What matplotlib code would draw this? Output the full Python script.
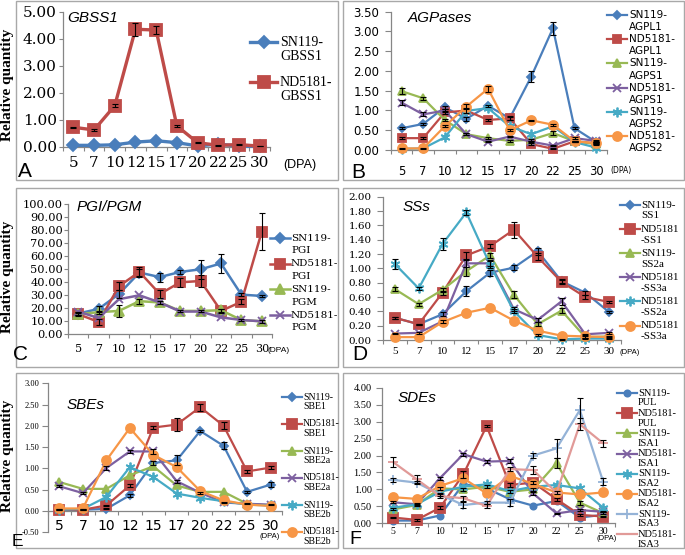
import numpy as np
import matplotlib
matplotlib.use("Agg")
import matplotlib.pyplot as plt
from matplotlib.lines import Line2D
from matplotlib.patches import Rectangle

# ---------------- data ----------------
DPA = ['5', '7', '10', '12', '15', '17', '20', '22', '25', '30']

# A  GBSS1
gbss1_sn119 = [0.05, 0.05, 0.07, 0.17, 0.22, 0.15, 0.03, 0.10, 0.02, 0.01]
gbss1_nd5181 = [0.72, 0.62, 1.52, 4.35, 4.32, 0.77, 0.15, 0.05, 0.08, 0.02]
gbss1_nd5181_err = [0.02, 0.02, 0.05, 0.25, 0.15, 0.03, 0.02, 0.01, 0.01, 0.01]
a_labels = ['SN119-\nGBSS1', 'ND5181-\nGBSS1']

# B  AGPases
agpl1_sn119 = [0.55, 0.66, 1.08, 0.79, 1.12, 0.80, 1.86, 3.08, 0.55, 0.20]
agpl1_sn119_err = [0.02, 0.03, 0.04, 0.05, 0.03, 0.03, 0.15, 0.17, 0.03, 0.02]
agpl1_nd5181 = [0.30, 0.30, 0.95, 1.00, 0.76, 0.80, 0.15, 0.03, 0.22, 0.17]
agpl1_nd5181_err = [0.02, 0.02, 0.04, 0.06, 0.03, 0.05, 0.02, 0.01, 0.02, 0.02]
agps1_sn119 = [1.49, 1.31, 0.76, 0.40, 0.30, 0.23, 0.26, 0.43, 0.22, 0.15]
agps1_sn119_err = [0.08, 0.04, 0.03, 0.02, 0.02, 0.02, 0.02, 0.05, 0.02, 0.02]
agps1_nd5181 = [1.20, 0.90, 1.00, 0.40, 0.21, 0.34, 0.21, 0.11, 0.30, 0.23]
agps1_nd5181_err = [0.07, 0.05, 0.03, 0.02, 0.02, 0.02, 0.02, 0.02, 0.02, 0.02]
agps2_sn119 = [0.03, 0.04, 0.32, 0.99, 1.06, 0.60, 0.40, 0.60, 0.20, 0.06]
agps2_nd5181 = [0.04, 0.04, 0.60, 1.10, 1.55, 0.50, 0.75, 0.64, 0.22, 0.17]
agps2_nd5181_err = [0.01, 0.01, 0.03, 0.06, 0.08, 0.03, 0.02, 0.03, 0.02, 0.02]
b_labels = ['SN119-\nAGPL1', 'ND5181-\nAGPL1', 'SN119-\nAGPS1', 'ND5181-\nAGPS1',
            'SN119-\nAGPS2', 'ND5181-\nAGPS2']

# C  PGI/PGM
pgi_sn119 = [16.0, 19.5, 31.0, 47.5, 44.0, 48.0, 50.0, 54.5, 30.5, 29.5]
pgi_sn119_err = [1.0, 2.0, 3.0, 3.0, 3.5, 1.5, 7.5, 7.0, 1.0, 1.0]
pgi_nd5181 = [15.5, 9.5, 37.0, 48.0, 31.0, 40.0, 41.0, 18.0, 25.0, 79.0]
pgi_nd5181_err = [1.5, 2.5, 3.0, 4.0, 3.0, 3.5, 4.5, 1.5, 2.0, 14.0]
pgm_sn119 = [15.5, 17.0, 18.0, 25.5, 24.5, 18.0, 18.0, 18.5, 11.0, 10.0]
pgm_sn119_err = [1.0, 1.0, 4.5, 2.0, 1.5, 1.0, 1.0, 1.0, 1.0, 1.0]
pgm_nd5181 = [17.5, 12.5, 27.0, 30.0, 24.5, 17.5, 17.5, 13.0, 11.0, 10.0]
c_labels = ['SN119-\nPGI', 'ND5181-\nPGI', 'SN119-\nPGM', 'ND5181-\nPGM']

# D  SSs
ss1_sn119 = [0.31, 0.22, 0.36, 0.68, 0.94, 1.01, 1.24, 0.82, 0.66, 0.39]
ss1_sn119_err = [0.01, 0.01, 0.03, 0.07, 0.04, 0.04, 0.05, 0.03, 0.03, 0.02]
ss1_nd5181 = [0.31, 0.22, 0.66, 1.18, 1.31, 1.54, 1.16, 0.81, 0.60, 0.53]
ss1_nd5181_err = [0.01, 0.01, 0.03, 0.05, 0.03, 0.11, 0.05, 0.03, 0.03, 0.02]
ss2a_sn119 = [0.71, 0.50, 0.70, 0.96, 1.18, 0.63, 0.22, 0.41, 0.04, 0.05]
ss2a_sn119_err = [0.03, 0.02, 0.03, 0.06, 0.03, 0.05, 0.03, 0.03, 0.01, 0.01]
ss3a_nd5181 = [0.09, 0.10, 0.26, 1.07, 1.07, 0.43, 0.28, 0.54, 0.08, 0.10]
ss3a_nd5181_err = [0.01, 0.01, 0.02, 0.05, 0.04, 0.03, 0.03, 0.05, 0.01, 0.01]
ss2a_nd5181 = [1.06, 0.72, 1.34, 1.78, 1.05, 0.40, 0.07, 0.01, 0.02, 0.02]
ss2a_nd5181_err = [0.07, 0.02, 0.08, 0.04, 0.05, 0.03, 0.02, 0.01, 0.01, 0.01]
ss3a_nd5181_b = [0.04, 0.04, 0.25, 0.38, 0.45, 0.27, 0.13, 0.06, 0.05, 0.04]
d_labels = ['SN119-\nSS1', 'ND5181\n-SS1', 'SN119-\nSS2a', 'ND5181\n-SS3a',
            'ND5181\n-SS2a', 'ND5181\n-SS3a']

# E  SBEs
sbe1_sn119 = [0.03, 0.03, 0.05, 0.37, 1.13, 1.19, 1.88, 1.53, 0.45, 0.62]
sbe1_sn119_err = [0.01, 0.01, 0.01, 0.03, 0.05, 0.12, 0.03, 0.08, 0.02, 0.05]
sbe1_nd5181 = [0.03, 0.03, 0.13, 0.60, 1.96, 2.03, 2.44, 2.00, 0.93, 1.02]
sbe1_nd5181_err = [0.01, 0.01, 0.02, 0.04, 0.03, 0.15, 0.08, 0.08, 0.03, 0.03]
sbe2a_sn119 = [0.68, 0.52, 0.52, 0.84, 1.05, 0.60, 0.45, 0.45, 0.17, 0.13]
sbe2a_nd5181 = [0.58, 0.42, 1.01, 1.40, 1.40, 0.70, 0.43, 0.20, 0.17, 0.15]
sbe2a_nd5181_err = [0.02, 0.02, 0.04, 0.04, 0.06, 0.04, 0.02, 0.02, 0.01, 0.01]
sbe2b_sn119 = [0.03, 0.05, 0.33, 1.03, 0.80, 0.41, 0.31, 0.23, 0.15, 0.13]
sbe2b_nd5181 = [0.06, 0.06, 1.19, 1.95, 1.32, 1.03, 0.47, 0.25, 0.15, 0.12]
e_labels = ['SN119-\nSBE1', 'ND5181-\nSBE1', 'SN119-\nSBE2a', 'ND5181-\nSBE2a',
            'SN119-\nSBE2b', 'ND5181-\nSBE2b']

# F  SDEs
pul_sn119 = [0.08, 0.08, 0.23, 1.16, 1.03, 0.71, 0.52, 0.66, 0.17, 0.25]
pul_nd5181 = [0.17, 0.10, 0.46, 1.44, 2.87, 1.13, 1.20, 0.71, 0.25, 0.20]
pul_nd5181_err = [0.02, 0.02, 0.04, 0.10, 0.04, 0.05, 0.05, 0.04, 0.02, 0.02]
isa1_sn119 = [0.41, 0.54, 1.03, 1.00, 1.08, 0.93, 1.00, 1.77, 0.61, 0.30]
isa1_sn119_err = [0.03, 0.03, 0.04, 0.04, 0.04, 0.04, 0.04, 0.15, 0.06, 0.03]
isa1_nd5181 = [0.62, 0.56, 1.33, 2.04, 1.82, 1.84, 0.88, 0.29, 0.39, 0.34]
isa1_nd5181_err = [0.03, 0.03, 0.05, 0.04, 0.04, 0.06, 0.04, 0.02, 0.02, 0.02]
isa2_sn119 = [0.46, 0.56, 0.93, 1.08, 1.15, 0.95, 1.08, 1.13, 1.03, 0.46]
isa2_nd5181 = [0.77, 0.72, 1.10, 1.33, 0.88, 1.40, 1.16, 0.91, 0.85, 0.91]
isa3_sn119 = [1.28, 1.20, 0.85, 0.54, 0.61, 0.61, 2.00, 2.21, 3.34, 1.23]
isa3_sn119_err = [0.05, 0.05, 0.05, 0.08, 0.05, 0.10, 0.08, 0.27, 0.37, 0.10]
isa3_nd5181 = [1.80, 1.30, 0.80, 0.74, 0.51, 1.60, 1.57, 0.90, 2.92, 2.36]
isa3_nd5181_err = [0.15, 0.12, 0.05, 0.07, 0.05, 0.05, 0.12, 0.05, 0.18, 0.10]
f_labels = ['SN119-\nPUL', 'ND5181-\nPUL', 'SN119-\nISA1', 'ND5181-\nISA1',
            'SN119-\nISA2', 'ND5181-\nISA2', 'SN119-\nISA3', 'ND5181-\nISA3']

# ---------------- style ----------------
BLUE, RED, GREEN, PURPLE = '#4A7EBB', '#BE4B48', '#98B954', '#7D60A0'
CYAN, ORANGE, LBLUE, PINK = '#46AAC5', '#F79646', '#95B3D7', '#E19A98'
STAR = (6, 2, 0)
SPINE = '#868686'
SERIF = 'Liberation Serif'
WSERIF = 'DejaVu Serif'
SANS = 'Liberation Sans'
WSANS = 'DejaVu Sans'

W, H = 685, 555
fig = plt.figure(figsize=(W / 100, H / 100), dpi=100)


def fx(x):
    return x / W


def fy(y):
    return 1 - y / H


def box(l, t, r, b):
    fig.add_artist(Rectangle((fx(l), fy(b)), (r - l) / W, (b - t) / H,
                             transform=fig.transFigure, fill=False,
                             ec='#A8A8A8', lw=1.0))


def make_ax(l, t, r, b, ylim, ystep, yfam, yfs, ypad, xfam, xfs, xpad, ytl=3):
    ax = fig.add_axes([fx(l), fy(b), (r - l) / W, (b - t) / H])
    ax.set_xlim(-0.5, len(DPA) - 0.5)
    ax.set_ylim(*ylim)
    yt = np.arange(ylim[0], ylim[1] + ystep / 2, ystep)
    ax.set_yticks(yt)
    ax.set_yticklabels([f'{v:.2f}' for v in yt], fontfamily=yfam, fontsize=yfs)
    ax.set_xticks(np.arange(-0.5, len(DPA), 1.0))
    ax.set_xticklabels([])
    ax.set_xticks(np.arange(len(DPA)), minor=True)
    ax.set_xticklabels(DPA, minor=True, fontfamily=xfam, fontsize=xfs)
    for s in ['top', 'right']:
        ax.spines[s].set_visible(False)
    for s in ['left', 'bottom']:
        ax.spines[s].set_color(SPINE)
        ax.spines[s].set_linewidth(0.9)
    ax.tick_params(axis='y', direction='out', length=ytl, width=0.8,
                   color=SPINE, pad=ypad)
    ax.tick_params(axis='x', which='major', direction='out', length=3,
                   width=0.8, color=SPINE)
    ax.tick_params(axis='x', which='minor', length=0, pad=xpad)
    ax.set_facecolor('none')
    return ax


def series(ax, vals, color, marker, ms, lw=1.6, err=None, mew=1.3):
    x = np.arange(len(DPA))
    ax.plot(x, vals, color=color, lw=lw, marker=marker, ms=ms, mfc=color,
            mec=color, mew=mew, clip_on=False, zorder=3)
    if err is not None:
        ax.errorbar(x, vals, yerr=err, fmt='none', ecolor='black',
                    elinewidth=0.8, capsize=2.2, capthick=0.8, zorder=4,
                    clip_on=False)


def legend(labels, styles, x0, x1, tx, y0, dy, ls, fam, fs, lw=1.6):
    for i, (lab, (color, marker, ms)) in enumerate(zip(labels, styles)):
        y = y0 + i * dy
        fig.add_artist(Line2D([fx(x0), fx(x1)], [fy(y), fy(y)],
                              transform=fig.transFigure, color=color, lw=lw))
        fig.add_artist(Line2D([fx((x0 + x1) / 2)], [fy(y)],
                              transform=fig.transFigure, color=color, lw=0,
                              marker=marker, ms=ms, mfc=color, mec=color,
                              mew=1.3))
        for j, part in enumerate(lab.split('\n')):
            fig.text(fx(tx), fy(y + j * ls), part, fontfamily=fam, fontsize=fs,
                     ha='left', va='center', color='black')


def title(x, y, s):
    fig.text(fx(x), fy(y), s, fontfamily=SANS, fontstyle='italic',
             fontsize=11, ha='left', va='center')


def letter(x, y, s, fs=15):
    fig.text(fx(x), fy(y), s, fontfamily=SANS, fontsize=fs, ha='center',
             va='center')


def ylabel(x, y):
    fig.text(fx(x), fy(y), 'Relative quantity', fontfamily=SERIF,
             fontweight='bold', fontsize=11, rotation=90, ha='center',
             va='center')


def dpa(x, y, fam, fs, ha='left'):
    fig.text(fx(x), fy(y), '(DPA)', fontfamily=fam, fontsize=fs, ha=ha,
             va='center')


# panel boxes
box(15.5, 1, 337.5, 180)
box(343, 1, 683.5, 180)
box(15.5, 188, 337.5, 367)
box(343, 188, 683.5, 367)
box(15.5, 373, 337.5, 548)
box(343, 373, 683.5, 548)

# ---------------- A ----------------
axA = make_ax(63, 11.7, 270, 146.7, (0, 5), 1.0, WSERIF, 11, 1.5,
              WSERIF, 11, 7.0)
series(axA, gbss1_sn119, BLUE, 'D', 6.5, lw=2.4)
series(axA, gbss1_nd5181, RED, 's', 8, lw=2.4, err=gbss1_nd5181_err)
legend(a_labels, [(BLUE, 'D', 6.5), (RED, 's', 8)], 250, 277, 280, 42, 40, 14,
       SERIF, 10, lw=2.4)
title(67, 18, 'GBSS1')
letter(25, 172, 'A')
ylabel(8, 85)
dpa(283, 165, SANS, 9)

# ---------------- B ----------------
axB = make_ax(390.7, 11.7, 607, 150, (0, 3.5), 0.5, WSANS, 8.5, 4.3,
              WSANS, 8.3, 10.5, ytl=4)
series(axB, agpl1_sn119, BLUE, 'D', 4.5, err=agpl1_sn119_err)
series(axB, agpl1_nd5181, RED, 's', 6, err=agpl1_nd5181_err)
series(axB, agps1_sn119, GREEN, '^', 6, err=agps1_sn119_err)
series(axB, agps1_nd5181, PURPLE, 'x', 6, err=agps1_nd5181_err)
series(axB, agps2_sn119, CYAN, STAR, 7)
series(axB, agps2_nd5181, ORANGE, 'o', 6.5, err=agps2_nd5181_err)
legend(b_labels, [(BLUE, 'D', 4.5), (RED, 's', 6), (GREEN, '^', 6),
                  (PURPLE, 'x', 6), (CYAN, STAR, 7), (ORANGE, 'o', 6.5)],
       607, 627, 629, 15, 24.2, 12.2, WSANS, 7.5)
title(408, 18, 'AGPases')
letter(358, 173, 'B')
dpa(610, 170, WSANS, 5.5)

# ---------------- C ----------------
axC = make_ax(68, 204.3, 272, 334.3, (0, 100), 10, WSERIF, 8.2, 0.5,
              WSERIF, 8, 7.0)
series(axC, pgi_sn119, BLUE, 'D', 5, lw=1.8, err=pgi_sn119_err)
series(axC, pgi_nd5181, RED, 's', 7, lw=1.8, err=pgi_nd5181_err)
series(axC, pgm_sn119, GREEN, '^', 6.5, lw=1.8, err=pgm_sn119_err)
series(axC, pgm_nd5181, PURPLE, 'x', 6, lw=1.8)
legend(c_labels, [(BLUE, 'D', 5), (RED, 's', 7), (GREEN, '^', 6.5),
                  (PURPLE, 'x', 6)],
       270, 290, 291, 238, 25.7, 12.8, WSERIF, 7.5, lw=1.8)
title(77, 207, 'PGI/PGM')
letter(21, 354, 'C')
ylabel(8, 277)
dpa(268, 350, SANS, 6)

# ---------------- D ----------------
axD = make_ax(383, 196.7, 621, 340, (0, 2), 0.2, WSERIF, 7.5, 4.3,
              SERIF, 8, 5.3, ytl=4)
series(axD, ss1_sn119, BLUE, 'D', 4.5, err=ss1_sn119_err)
series(axD, ss1_nd5181, RED, 's', 6.5, err=ss1_nd5181_err)
series(axD, ss2a_sn119, GREEN, '^', 6, err=ss2a_sn119_err)
series(axD, ss3a_nd5181, PURPLE, 'x', 6, err=ss3a_nd5181_err)
series(axD, ss2a_nd5181, CYAN, STAR, 7, err=ss2a_nd5181_err)
series(axD, ss3a_nd5181_b, ORANGE, 'o', 6.5)
legend(d_labels, [(BLUE, 'D', 4.5), (RED, 's', 6.5), (GREEN, '^', 6),
                  (PURPLE, 'x', 6), (CYAN, STAR, 7), (ORANGE, 'o', 6.5)],
       620, 640, 641, 205, 24.1, 11, SERIF, 8)
title(403, 207, 'SSs')
letter(360, 354, 'D')
dpa(620, 352, SANS, 5.5)

# ---------------- E ----------------
axE = make_ax(47.7, 383.3, 282.3, 532.3, (-0.5, 3.0), 0.5, SERIF, 6, 2.0,
              SERIF, 6.5, 6.0, ytl=4)
axE.spines['bottom'].set_position(('data', 0))
series(axE, sbe1_sn119, BLUE, 'D', 4.5, err=sbe1_sn119_err)
series(axE, sbe1_nd5181, RED, 's', 6.5, err=sbe1_nd5181_err)
series(axE, sbe2a_sn119, GREEN, '^', 6)
series(axE, sbe2a_nd5181, PURPLE, 'x', 6, err=sbe2a_nd5181_err)
series(axE, sbe2b_sn119, CYAN, STAR, 7)
series(axE, sbe2b_nd5181, ORANGE, 'o', 6.5)
legend(e_labels, [(BLUE, 'D', 4.5), (RED, 's', 6.5), (GREEN, '^', 6),
                  (PURPLE, 'x', 6), (CYAN, STAR, 7), (ORANGE, 'o', 6.5)],
       282, 302, 303, 397, 27, 9.3, SERIF, 7)
title(67, 405, 'SBEs')
letter(17.5, 542, 'E', fs=12.5)
ylabel(8, 456)
dpa(270, 537, SANS, 5.5, ha='center')

# ---------------- F ----------------
axF = make_ax(381.7, 387.7, 614.8, 523.3, (0, 4.0), 0.5, SERIF, 7.5, 3.2,
              SERIF, 7, 2.5, ytl=4)
series(axF, pul_sn119, BLUE, 'o', 4.5)
series(axF, pul_nd5181, RED, 's', 6.5, err=pul_nd5181_err)
series(axF, isa1_sn119, GREEN, '^', 6, err=isa1_sn119_err)
series(axF, isa1_nd5181, PURPLE, 'x', 6, err=isa1_nd5181_err)
series(axF, isa2_sn119, CYAN, STAR, 7)
series(axF, isa2_nd5181, ORANGE, 'o', 6.5)
series(axF, isa3_sn119, LBLUE, '+', 7, err=isa3_sn119_err)
series(axF, isa3_nd5181, PINK, '_', 7, err=isa3_nd5181_err)
legend(f_labels, [(BLUE, 'o', 4.5), (RED, 's', 6.5), (GREEN, '^', 6),
                  (PURPLE, 'x', 6), (CYAN, STAR, 7), (ORANGE, 'o', 6.5),
                  (LBLUE, '+', 7), (PINK, '_', 7)],
       617, 637, 638, 393, 20.2, 9.8, SERIF, 7.5)
title(398, 398, 'SDEs')
letter(355, 540, 'F', fs=14)
dpa(607, 538, SANS, 5.5, ha='center')

fig.savefig('out.png', dpi=100, facecolor='white')
